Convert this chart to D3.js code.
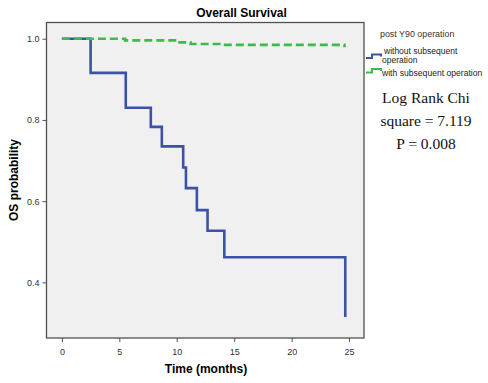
<!DOCTYPE html>
<html><head><meta charset="utf-8">
<script src="https://cdn.jsdelivr.net/npm/d3@7"></script>
<style>body{margin:0;background:#fff}svg{display:block}</style>
</head><body>
<script>
// Data
const xTicks = [0, 5, 10, 15, 20, 25];
const yTicks = [0.4, 0.6, 0.8, 1.0];
const seriesNames = ["without subsequent operation", "with subsequent operation"];
const withoutTimes = [0, 2.5, 5.56, 7.74, 8.7, 10.56, 10.8, 11.75, 12.68, 14.14, 24.67];
const withoutSurv  = [1.0, 0.916, 0.830, 0.783, 0.735, 0.683, 0.632, 0.578, 0.527, 0.462, 0.315];
const withTimes = [0, 5.5, 10.0, 11.2, 13.9, 24.6];
const withSurv  = [1.0, 0.996, 0.991, 0.987, 0.985, 0.979];

const W = 488, H = 383;
const svg = d3.select("body").append("svg").attr("width", W).attr("height", H);
const m = {l: 46.5, t: 22.5, r: 364, b: 338};
const x = d3.scaleLinear().domain([-1.34, 26.3]).range([m.l, m.r]);
const y = d3.scaleLinear().domain([0.263, 1.04]).range([m.b, m.t]);

svg.append("rect").attr("x", m.l).attr("y", m.t).attr("width", m.r - m.l).attr("height", m.b - m.t)
  .attr("fill", "#f0f0f0").attr("stroke", "#505050").attr("stroke-width", 1.3);

const xAxis = svg.append("g").attr("transform", `translate(0,${m.b})`)
  .call(d3.axisBottom(x).tickValues(xTicks).tickSize(4).tickSizeOuter(0).tickFormat(d3.format("d")));
const yAxis = svg.append("g").attr("transform", `translate(${m.l},0)`)
  .call(d3.axisLeft(y).tickValues(yTicks).tickSize(4).tickSizeOuter(0).tickFormat(d3.format(".1f")));
[xAxis, yAxis].forEach(a => {
  a.select(".domain").remove();
  a.selectAll("line").attr("stroke", "#505050");
  a.selectAll("text").attr("font-family", "Arial, Liberation Sans, sans-serif").attr("font-size", 9).attr("fill", "#333");
});
xAxis.selectAll("text").attr("dy", "1.1em");

function stepPts(times, surv) {
  const pts = [];
  for (let i = 0; i < times.length; i++) {
    if (i > 0) pts.push([times[i], surv[i - 1]]);
    pts.push([times[i], surv[i]]);
  }
  return pts;
}
const line = d3.line().x(d => x(d[0])).y(d => y(d[1]));

svg.append("path").datum(stepPts(withoutTimes, withoutSurv))
  .attr("d", line).attr("fill", "none").attr("stroke", "#3b52a8").attr("stroke-width", 2.6);
svg.append("path").datum(stepPts(withTimes, withSurv))
  .attr("d", line).attr("fill", "none").attr("stroke", "#3dba48").attr("stroke-width", 2.6)
  .attr("stroke-dasharray", "8,4");

// Title and labels
svg.append("text").attr("x", 241.5).attr("y", 17).attr("text-anchor", "middle")
  .attr("font-family", "Arial, Liberation Sans, sans-serif").attr("font-weight", "bold").attr("font-size", 12)
  .text("Overall Survival");
svg.append("text").attr("x", 206).attr("y", 373).attr("text-anchor", "middle")
  .attr("font-family", "Arial, Liberation Sans, sans-serif").attr("font-weight", "bold").attr("font-size", 12)
  .text("Time (months)");
svg.append("text").attr("transform", "translate(18,180) rotate(-90)").attr("text-anchor", "middle")
  .attr("font-family", "Arial, Liberation Sans, sans-serif").attr("font-weight", "bold").attr("font-size", 12)
  .text("OS probability");

// Legend
const lg = svg.append("g").attr("font-family", "Arial, Liberation Sans, sans-serif").attr("fill", "#222");
lg.append("text").attr("x", 380).attr("y", 37).attr("font-size", 8.9).attr("fill", "#333").text("post Y90 operation");
const legColors = ["#3b52a8", "#3dba48"];
const iconY = [58, 72.5];
legColors.forEach((c, i) => {
  const yy = iconY[i];
  svg.append("path").attr("d", `M366,${yy} H372 V${yy - 3.5} H381 V${yy - 1.5}`)
    .attr("fill", "none").attr("stroke", c).attr("stroke-width", 2);
});
lg.append("text").attr("x", 384).attr("y", 54).attr("font-size", 8.5).text("without subsequent");
lg.append("text").attr("x", 382).attr("y", 63).attr("font-size", 8.5).text("operation");
lg.append("text").attr("x", 382).attr("y", 75.5).attr("font-size", 8.6).text("with subsequent operation");

// Stats text
const st = svg.append("g").attr("font-family", "Liberation Serif, DejaVu Serif, serif").attr("font-size", 15.5)
  .attr("fill", "#111").attr("text-anchor", "middle");
st.append("text").attr("x", 426).attr("y", 103).text("Log Rank Chi");
st.append("text").attr("x", 426).attr("y", 126).text("square = 7.119");
st.append("text").attr("x", 426).attr("y", 149).text("P = 0.008");
</script>
</body></html>
